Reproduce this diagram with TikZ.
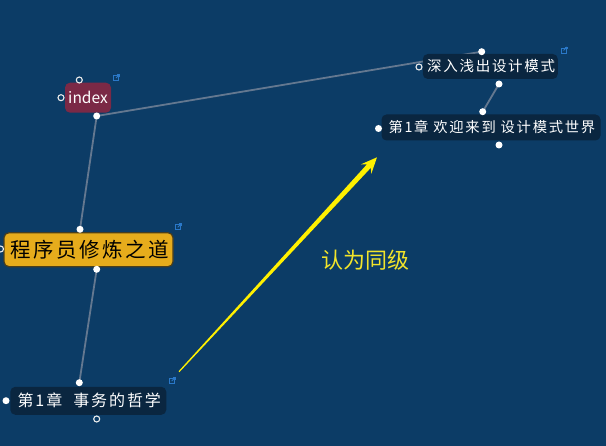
\documentclass[tikz,border=0pt]{standalone}
\usepackage{fontspec}
\newfontfamily\cjk{Noto Sans CJK SC}
\newfontfamily\cjks[LetterSpace=12]{Noto Sans CJK SC}
\usetikzlibrary{calc}
\definecolor{bg}{HTML}{0C3C66}
\definecolor{darkbox}{HTML}{0A2640}
\definecolor{maroon}{HTML}{7B2946}
\definecolor{gold}{HTML}{E6AC1C}
\definecolor{goldedge}{HTML}{4A3E1C}
\definecolor{linkgray}{HTML}{647890}
\definecolor{arrowyellow}{HTML}{FFF000}
\definecolor{lblyellow}{HTML}{F2E42A}
\definecolor{iconblue}{HTML}{2A78C8}
\tikzset{
  topic/.style={rounded corners=5pt, inner sep=0pt, text=white, align=center},
  darktopic/.style={topic, fill=darkbox},
  dot/.style={circle, fill=white, inner sep=0pt, minimum size=7pt},
  hollow/.style={circle, draw=white!85!gray, line width=1.1pt, fill=bg, inner sep=0pt, minimum size=6pt},
  conn/.style={draw=linkgray, line width=1.8pt},
  icon/.style={draw=iconblue, line width=0.9pt, inner sep=0pt, minimum size=5pt}
}
\begin{document}
\begin{tikzpicture}[x=1pt,y=-1pt]
\useasboundingbox (0,0) rectangle (606,446);
\fill[bg] (0,0) rectangle (606,446);

% connector end points
\coordinate (idxB) at (96.7,116);
\coordinate (progT) at (80,229.3);
\coordinate (progB) at (96.7,269.3);
\coordinate (chaT) at (79.3,382.7);
\coordinate (shenT) at (481.7,51.7);
\coordinate (shenB) at (499,84);
\coordinate (chbT) at (482.7,111.7);
\draw[conn] (idxB) -- (progT);
\draw[conn] (progB) -- (chaT);
\draw[conn] (idxB) -- (shenT);
\draw[conn] (shenB) -- (chbT);

% topics
\node[topic, fill=maroon, minimum width=46pt, minimum height=30pt, font=\cjk\fontsize{15.5}{15.5}\selectfont] (index) at (88,97.7) {index};
\node[topic, fill=gold, draw=goldedge, line width=1.2pt, text=black, minimum width=169pt, minimum height=34pt, font=\cjks\fontsize{20.5}{20.5}\selectfont] (prog) at (88.5,249.7) {\hspace*{2.4pt}程序员修炼之道};
\node[darktopic, minimum width=156pt, minimum height=28pt, font=\cjks\fontsize{16}{16}\selectfont] (cha) at (88.3,400.8) {\hspace*{1.9pt}第1章\ \ 事务的哲学};
\node[darktopic, minimum width=135pt, minimum height=25pt, font=\cjks\fontsize{14.5}{14.5}\selectfont] (shen) at (490.3,66.5) {\hspace*{1.7pt}深入浅出设计模式};
\node[darktopic, minimum width=219pt, minimum height=26pt, font=\cjks\fontsize{14.3}{14.3}\selectfont] (chb) at (491,127.5) {\hspace*{1.7pt}第1章\ 欢迎来到\ 设计模式世界};

% handles
\node[dot] (d1) at (idxB) {};
\node[hollow] (h1) at (79.3,80) {};
\node[hollow] (h2) at (61,97.7) {};
\node[dot] (d2) at (progT) {};
\node[dot] (d3) at (progB) {};
\node[hollow] (h3) at (0.5,249) {};
\node[dot] (d4) at (chaT) {};
\node[dot] (d5) at (6,400.7) {};
\node[hollow] (h4) at (96.7,419) {};
\node[dot] (d6) at (shenT) {};
\node[hollow] (h5) at (419,67) {};
\node[dot] (d7) at (shenB) {};
\node[dot] (d8) at (chbT) {};
\node[dot] (d9) at (378.5,128.5) {};
\node[dot] (d10) at (499,145) {};

% link icons
\foreach \n/\p in {i1/{(116,78)}, i2/{(177.7,227.3)}, i3/{(171.7,381)}, i4/{(563.5,50.5)}}{
  \node[icon] (\n) at \p {};
  \draw[iconblue, line width=0.9pt] (\n.center) -- ++(3.5,-3.5);
  \draw[iconblue, line width=0.9pt] ($(\n.center)+(1.2,-3.5)$) -- ++(2.3,0) -- ++(0,2.3);
}

% tapered yellow arrow
\coordinate (as) at (179,371.7);
\coordinate (at) at (377,157.3);
\coordinate (hb) at ($(at)!16pt!(as)$);
\coordinate (hn) at ($(at)!12pt!(as)$);
\fill[arrowyellow]
  ($(as)!0.6pt!90:(at)$) -- ($(hn)!2.6pt!90:(at)$) -- ($(hb)!7pt!90:(at)$) -- (at)
  -- ($(hb)!7pt!-90:(at)$) -- ($(hn)!2.6pt!-90:(at)$) -- ($(as)!0.6pt!-90:(at)$) -- cycle;

\node[text=lblyellow, font=\cjk\fontsize{22}{22}\selectfont, inner sep=0pt] (lbl) at (365,260) {认为同级};
\end{tikzpicture}
\end{document}
